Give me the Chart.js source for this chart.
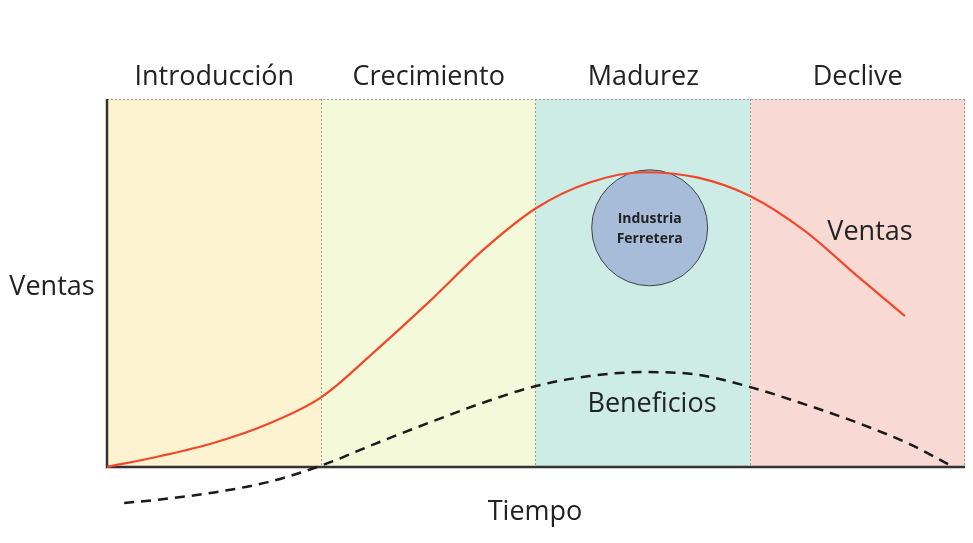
<!DOCTYPE html>
<html>
<head>
<meta charset="utf-8">
<script src="https://cdn.jsdelivr.net/npm/chart.js@4"></script>
<style>
  body { margin: 0; background: #fff; }
</style>
</head>
<body>
<canvas id="cycleChart" width="973" height="543"></canvas>
<script>
// Stages of the product life cycle (x axis runs 0..4, one unit per stage)
const stages = ['Introducción', 'Crecimiento', 'Madurez', 'Declive'];
const stageColors = ['#fdf3d1', '#f4f9da', '#ceece6', '#f9d9d4'];

// Sales curve (x = stage position, y = relative level 0..100)
const ventasX = [0, 0.25, 0.5, 0.75, 1.0, 1.25, 1.5, 1.75, 2.0, 2.25, 2.5, 2.75, 3.0, 3.25, 3.5, 3.72];
const ventasY = [0, 3.0, 6.6, 11.7, 19.0, 31.5, 44.8, 58.8, 70.3, 77.3, 80.1, 78.7, 73.6, 64.3, 51.8, 41.0];

// Profit curve, starts below zero
const beneficiosX = [0.08, 0.25, 0.5, 0.75, 1.0, 1.25, 1.5, 1.75, 2.0, 2.25, 2.5, 2.75, 3.0, 3.25, 3.5, 3.75, 3.93];
const beneficiosY = [-9.8, -8.8, -6.9, -4.1, 0.4, 6.3, 12.0, 17.4, 22.0, 24.7, 25.8, 25.1, 21.7, 17.1, 12.0, 6.0, 0.5];

// Bubble marking where the hardware industry sits
const industria = { x: 2.53, y: 65, r: 58, label: ['Industria', 'Ferretera'] };

const toPoints = (xs, ys) => xs.map((x, i) => ({ x: x, y: ys[i] }));

// Draw the stage bands, axis lines and text labels
const cyclePlugin = {
  id: 'cyclePlugin',
  beforeDatasetsDraw(chart) {
    const { ctx, chartArea, scales } = chart;
    const xs = scales.x;
    ctx.save();
    stages.forEach((s, i) => {
      const x0 = xs.getPixelForValue(i);
      const x1 = xs.getPixelForValue(i + 1);
      ctx.fillStyle = stageColors[i];
      ctx.fillRect(x0, chartArea.top, x1 - x0, chartArea.bottom - chartArea.top);
    });
    // dotted borders
    ctx.strokeStyle = '#999';
    ctx.lineWidth = 1;
    ctx.setLineDash([2, 2]);
    ctx.beginPath();
    ctx.moveTo(chartArea.left, chartArea.top + 0.5);
    ctx.lineTo(chartArea.right, chartArea.top + 0.5);
    for (let i = 1; i <= stages.length; i++) {
      const x = Math.round(xs.getPixelForValue(i)) - 0.5;
      ctx.moveTo(x, chartArea.top);
      ctx.lineTo(x, chartArea.bottom);
    }
    ctx.stroke();
    ctx.setLineDash([]);
    // axes
    ctx.strokeStyle = '#333';
    ctx.lineWidth = 2.5;
    ctx.beginPath();
    ctx.moveTo(chartArea.left, chartArea.top);
    ctx.lineTo(chartArea.left, chartArea.bottom);
    ctx.lineTo(chartArea.right, chartArea.bottom);
    ctx.stroke();
    // stage titles
    ctx.fillStyle = '#222';
    ctx.font = '27px "Open Sans"';
    ctx.textAlign = 'center';
    ctx.textBaseline = 'middle';
    stages.forEach((s, i) => {
      ctx.fillText(s, xs.getPixelForValue(i + 0.5), 77);
    });
    ctx.fillText('Ventas', 52, 287);
    ctx.fillText('Tiempo', 535, 512);
    ctx.fillText('Ventas', 870, 232);
    ctx.fillText('Beneficios', 652, 404);
    ctx.restore();
  },
  afterDatasetsDraw(chart) {
    const { ctx, scales } = chart;
    const cx = scales.x.getPixelForValue(industria.x);
    const cy = scales.y.getPixelForValue(industria.y);
    ctx.save();
    ctx.fillStyle = '#222';
    ctx.font = 'bold 14px "Open Sans"';
    ctx.textAlign = 'center';
    ctx.textBaseline = 'middle';
    ctx.fillText(industria.label[0], cx, cy - 9);
    ctx.fillText(industria.label[1], cx, cy + 11);
    ctx.restore();
  }
};

const ctx = document.getElementById('cycleChart').getContext('2d');
new Chart(ctx, {
  type: 'line',
  data: {
    datasets: [
      {
        label: 'Ventas',
        data: toPoints(ventasX, ventasY),
        borderColor: '#f2482a',
        borderWidth: 2.2,
        pointRadius: 0,
        cubicInterpolationMode: 'monotone',
        fill: false,
        clip: false
      },
      {
        label: 'Beneficios',
        data: toPoints(beneficiosX, beneficiosY),
        borderColor: '#1a1a1a',
        borderWidth: 2.5,
        borderDash: [10, 7],
        pointRadius: 0,
        cubicInterpolationMode: 'monotone',
        fill: false,
        clip: false
      },
      {
        type: 'bubble',
        label: 'Industria Ferretera',
        data: [{ x: industria.x, y: industria.y, r: industria.r }],
        backgroundColor: '#a7bcd9',
        borderColor: '#444',
        borderWidth: 1,
        hoverRadius: 0,
        clip: false
      }
    ]
  },
  options: {
    responsive: false,
    animation: false,
    layout: { autoPadding: false, padding: { left: 107, right: 8, top: 99, bottom: 76 } },
    scales: {
      x: { type: 'linear', min: 0, max: 4, display: false },
      y: { min: 0, max: 100, display: false }
    },
    plugins: {
      legend: { display: false },
      tooltip: { enabled: false }
    }
  },
  plugins: [cyclePlugin]
});
</script>
</body>
</html>
